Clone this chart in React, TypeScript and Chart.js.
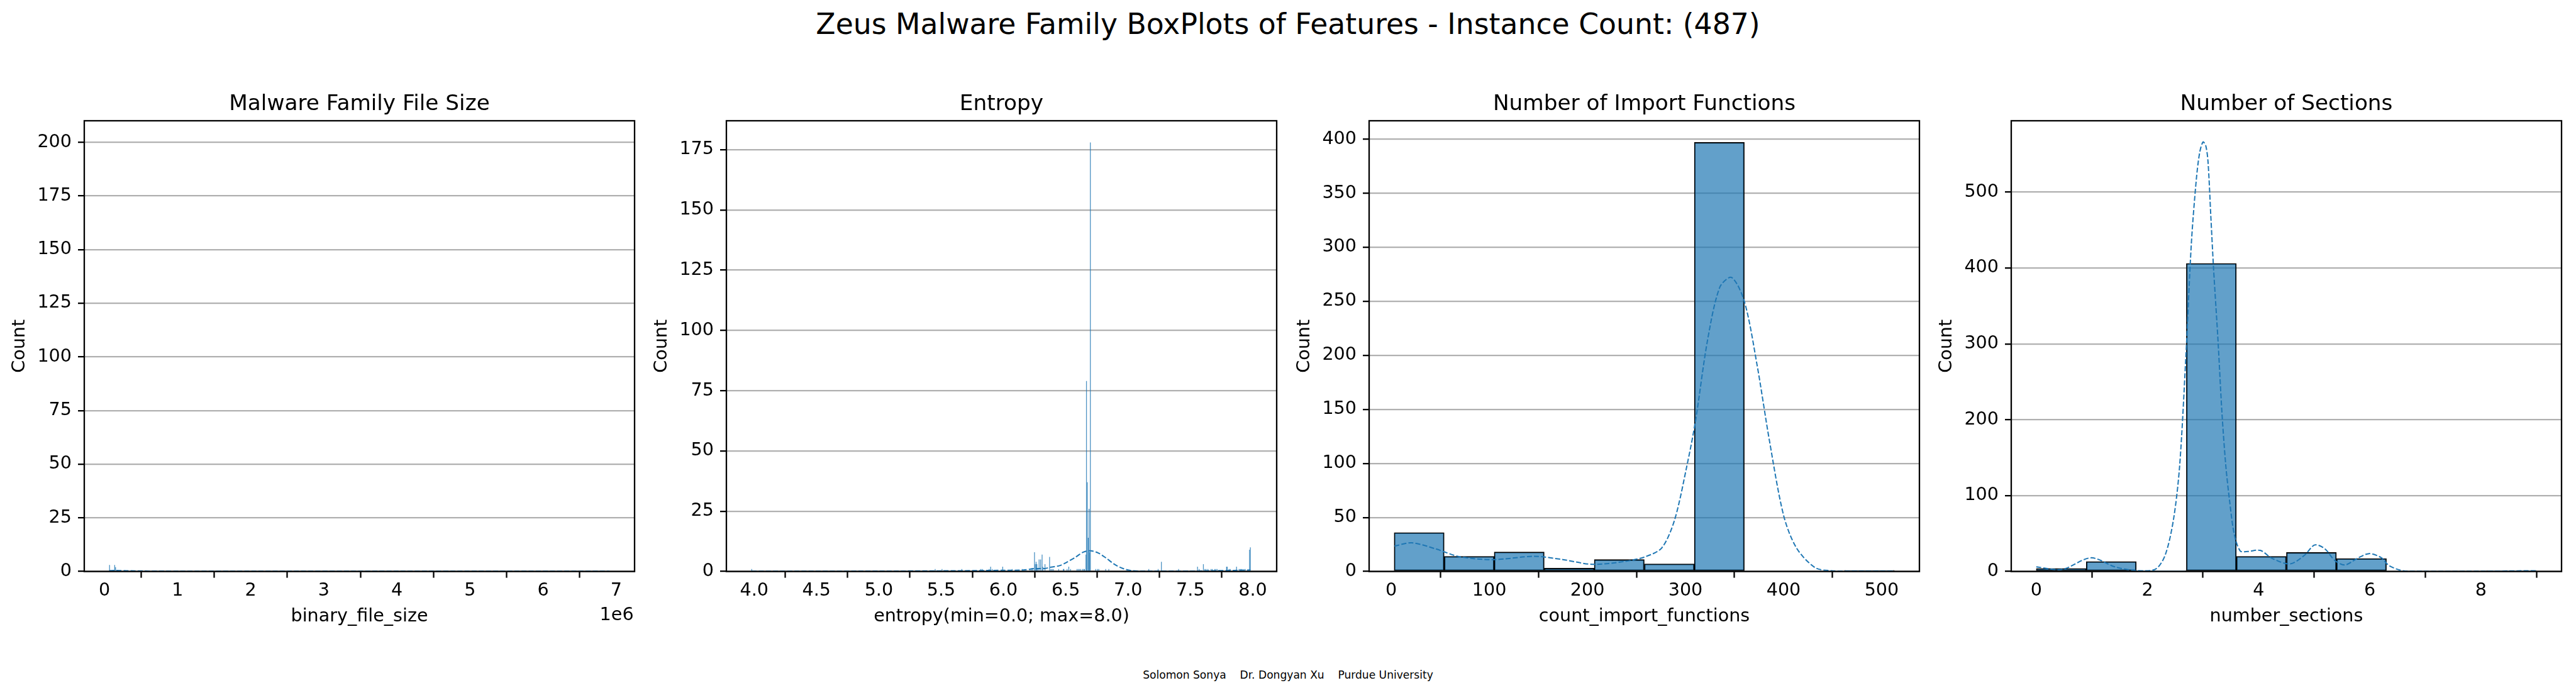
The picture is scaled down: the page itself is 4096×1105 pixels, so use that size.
import React, { useEffect, useRef } from "react";
import { Chart, registerables } from "chart.js";

Chart.register(...registerables);

// ---------------- text ----------------
const FONT_FAMILY = "'DejaVu Sans', 'Liberation Sans', sans-serif";
const SUPTITLE = "Zeus Malware Family BoxPlots of Features - Instance Count: (487)";
const CREDITS = "Solomon Sonya    Dr. Dongyan Xu    Purdue University";
const Y_LABEL = "Count";

// ---------------- panel 1: file size ----------------
const fileSizeTitle = "Malware Family File Size";
const fileSizeXLabel = "binary_file_size";
const fileSizeOffsetText = "1e6";
const fileSizeBinX = [69000, 139000, 151000];
const fileSizeCounts = [3, 3, 2];
const fileSizeKdeX = [65000, 150000, 300000, 600000, 1000000, 2000000, 4000000, 6908000];
const fileSizeKdeY = [0.4, 0.45, 0.35, 0.2, 0.12, 0.1, 0.08, 0.08];
const fileSizeXTicks = [0, 1e6, 2e6, 3e6, 4e6, 5e6, 6e6, 7e6];
const fileSizeXTickLabels = ["0", "1", "2", "3", "4", "5", "6", "7"];
const fileSizeYTicks = [0, 25, 50, 75, 100, 125, 150, 175, 200];
const fileSizeYTickLabels = ["0", "25", "50", "75", "100", "125", "150", "175", "200"];
const fileSizeXLimits = [-277000, 7250000];
const fileSizeYMax = 210;

// ---------------- panel 2: entropy ----------------
const entropyTitle = "Entropy";
const entropyXLabel = "entropy(min=0.0; max=8.0)";
const entropyBinX = [
  3.98, 5.452, 5.507, 5.666, 5.818, 5.83, 5.885, 5.897, 5.91, 5.994, 6.07, 6.15,
  6.213, 6.225, 6.235, 6.249, 6.255, 6.262, 6.268, 6.275, 6.286, 6.298, 6.31, 6.316,
  6.333, 6.37, 6.38, 6.39, 6.4, 6.443, 6.48, 6.485, 6.51, 6.524, 6.538, 6.59, 6.6,
  6.61, 6.62, 6.635, 6.645, 6.65, 6.662, 6.666, 6.673, 6.68, 6.687, 6.691, 6.697,
  6.74, 6.755, 6.765, 6.82, 6.845, 7.166, 7.241, 7.267, 7.405, 7.557, 7.57, 7.604,
  7.615, 7.625, 7.64, 7.665, 7.675, 7.695, 7.705, 7.715, 7.79, 7.795, 7.81, 7.82,
  7.87, 7.89, 7.9, 7.91, 7.94, 7.974, 7.981,
];
const entropyCounts = [
  1, 1, 1, 1, 1, 1, 1, 2, 1, 2, 1, 1,
  1, 1, 1, 8, 3, 4, 3, 1, 5, 5, 7, 2,
  3, 6, 1, 1, 1, 1, 1, 1, 1, 2, 1, 1, 1,
  1, 1, 1, 1, 1, 7, 79, 37, 14, 26, 8, 178,
  1, 1, 1, 1, 1, 1, 1, 4, 1, 2, 1, 3,
  1, 1, 1, 1, 1, 1, 1, 1, 2, 2, 1, 1,
  2, 1, 1, 1, 1, 9, 10,
];
const entropyKdeX = [3.98, 4.5, 5.0, 5.5, 5.8, 6.0, 6.16, 6.25, 6.33, 6.38, 6.45, 6.5, 6.58, 6.64, 6.7, 6.76, 6.82, 6.89, 6.96, 7.03, 7.2, 7.5, 7.7, 7.85, 7.98];
const entropyKdeY = [0.1, 0.1, 0.15, 0.25, 0.35, 0.5, 0.6, 1.2, 1.2, 1.8, 2.4, 3.6, 6.0, 8.0, 8.6, 7.7, 5.7, 3.0, 1.2, 0.3, 0.15, 0.15, 0.3, 0.45, 0.6];
const entropyXTicks = [4.0, 4.5, 5.0, 5.5, 6.0, 6.5, 7.0, 7.5, 8.0];
const entropyXTickLabels = ["4.0", "4.5", "5.0", "5.5", "6.0", "6.5", "7.0", "7.5", "8.0"];
const entropyYTicks = [0, 25, 50, 75, 100, 125, 150, 175];
const entropyYTickLabels = ["0", "25", "50", "75", "100", "125", "150", "175"];
const entropyXLimits = [3.777, 8.192];
const entropyYMax = 187;

// ---------------- panel 3: import functions ----------------
const importsTitle = "Number of Import Functions";
const importsXLabel = "count_import_functions";
const importsBinX = [28.5, 79.5, 130.5, 181.5, 232.5, 283.5, 334.5, 385.5, 436.5, 487.5];
const importsCounts = [36, 14, 18, 3, 11, 7, 397, 0, 0, 1];
const importsKdeX = [3.4, 21, 45, 70, 104, 146, 175, 205, 238, 259, 276, 289, 301.5, 310, 322.5, 335, 347, 360, 373, 385.6, 400, 413, 432, 448.6, 480, 513];
const importsKdeY = [23.5, 26.5, 21, 13.6, 11, 14, 11, 6.6, 9.3, 13.6, 22, 48, 98, 138, 214, 263, 272, 250, 191, 121, 52, 22, 3.6, 0.7, 0.3, 0.3];
const importsXTicks = [0, 100, 200, 300, 400, 500];
const importsXTickLabels = ["0", "100", "200", "300", "400", "500"];
const importsYTicks = [0, 50, 100, 150, 200, 250, 300, 350, 400];
const importsYTickLabels = ["0", "50", "100", "150", "200", "250", "300", "350", "400"];
const importsXLimits = [-22.5, 538.5];
const importsYMax = 417;

// ---------------- panel 4: sections ----------------
const sectionsTitle = "Number of Sections";
const sectionsXLabel = "number_sections";
const sectionsBinX = [0.45, 1.35, 2.25, 3.15, 4.05, 4.95, 5.85, 6.75, 7.65, 8.55];
const sectionsCounts = [4, 13, 1, 406, 20, 25, 17, 0, 0, 1];
const sectionsKdeX = [0, 0.47, 0.98, 1.42, 1.78, 2.14, 2.32, 2.47, 2.58, 2.69, 2.79, 2.88, 2.94, 3.0, 3.05, 3.09, 3.14, 3.19, 3.27, 3.34, 3.41, 3.48, 3.56, 3.67, 3.81, 4.03, 4.25, 4.57, 4.83, 5.01, 5.19, 5.37, 5.55, 5.77, 5.99, 6.21, 6.35, 6.64, 7.73, 9.0];
const sectionsKdeY = [6, 2.8, 18, 6, 1.4, 2.8, 21.7, 69, 139.5, 281, 432, 517, 552, 566, 561, 540, 469, 399, 304, 210, 139.5, 92, 50, 27, 26.4, 27.8, 17, 10, 21.7, 35, 30, 14.6, 8.5, 17, 23.6, 18, 7.5, 0.5, 0.2, 1];
const sectionsXTicks = [0, 2, 4, 6, 8];
const sectionsXTickLabels = ["0", "2", "4", "6", "8"];
const sectionsYTicks = [0, 100, 200, 300, 400, 500];
const sectionsYTickLabels = ["0", "100", "200", "300", "400", "500"];
const sectionsXLimits = [-0.45, 9.45];
const sectionsYMax = 594;

// ---------------- styling / layout ----------------
const TICK_FONT = 28.6;
const SUBTITLE_FONT = 34.3;
const SUPTITLE_FONT = 45.7;
const CREDIT_FONT = 17.1;
const LINE_W = 2.3;
const CANVAS_TOP = 100;
const TITLE_SPACE = 92;
const TITLE_BASELINE_GAP = 17.2;
const Y_AXIS_W = 130;
const PLOT_W = 875;
const RIGHT_PAD = 130;
const CANVAS_W = Y_AXIS_W + PLOT_W + RIGHT_PAD;
const CANVAS_H = 910;
const X_AXIS_H = 101.4;
const PANEL_LEFTS = [4, 1025, 2047, 3068];

type PanelSpec = {
  title: string;
  xLabel: string;
  offsetText?: string;
  binX: number[];
  counts: number[];
  kdeX: number[];
  kdeY: number[];
  xTicks: number[];
  xTickLabels: string[];
  yTicks: number[];
  yTickLabels: string[];
  xLimits: number[];
  yMax: number;
  thin: boolean;
};

const PANELS: PanelSpec[] = [
  { title: fileSizeTitle, xLabel: fileSizeXLabel, offsetText: fileSizeOffsetText, binX: fileSizeBinX, counts: fileSizeCounts, kdeX: fileSizeKdeX, kdeY: fileSizeKdeY, xTicks: fileSizeXTicks, xTickLabels: fileSizeXTickLabels, yTicks: fileSizeYTicks, yTickLabels: fileSizeYTickLabels, xLimits: fileSizeXLimits, yMax: fileSizeYMax, thin: true },
  { title: entropyTitle, xLabel: entropyXLabel, binX: entropyBinX, counts: entropyCounts, kdeX: entropyKdeX, kdeY: entropyKdeY, xTicks: entropyXTicks, xTickLabels: entropyXTickLabels, yTicks: entropyYTicks, yTickLabels: entropyYTickLabels, xLimits: entropyXLimits, yMax: entropyYMax, thin: true },
  { title: importsTitle, xLabel: importsXLabel, binX: importsBinX, counts: importsCounts, kdeX: importsKdeX, kdeY: importsKdeY, xTicks: importsXTicks, xTickLabels: importsXTickLabels, yTicks: importsYTicks, yTickLabels: importsYTickLabels, xLimits: importsXLimits, yMax: importsYMax, thin: false },
  { title: sectionsTitle, xLabel: sectionsXLabel, binX: sectionsBinX, counts: sectionsCounts, kdeX: sectionsKdeX, kdeY: sectionsKdeY, xTicks: sectionsXTicks, xTickLabels: sectionsXTickLabels, yTicks: sectionsYTicks, yTickLabels: sectionsYTickLabels, xLimits: sectionsXLimits, yMax: sectionsYMax, thin: false },
];

function Panel({ spec, left }: { spec: PanelSpec; left: number }) {
  const ref = useRef<HTMLCanvasElement>(null);

  useEffect(() => {
    const canvas = ref.current;
    if (!canvas) return;

    const framePlugin = {
      id: "frameBox",
      afterDraw(chart: any) {
        const { ctx, chartArea: a } = chart;
        ctx.save();
        ctx.strokeStyle = "#000";
        ctx.lineWidth = LINE_W;
        ctx.strokeRect(a.left, a.top, a.right - a.left, a.bottom - a.top);
        ctx.fillStyle = "#000";
        ctx.font = `${SUBTITLE_FONT}px ${FONT_FAMILY}`;
        ctx.textAlign = "center";
        ctx.textBaseline = "alphabetic";
        ctx.fillText(spec.title, (a.left + a.right) / 2, a.top - TITLE_BASELINE_GAP);
        if (spec.offsetText) {
          ctx.font = `${TICK_FONT}px ${FONT_FAMILY}`;
          ctx.textAlign = "right";
          ctx.fillText(spec.offsetText, a.right - 1.4, a.bottom + 77.4);
        }
        ctx.restore();
      },
    };

    const barDataset: any = {
      type: "bar",
      data: spec.binX.map((x, i) => ({ x, y: spec.counts[i] })),
      backgroundColor: spec.thin ? "rgba(31,119,180,0.8)" : "rgba(31,119,180,0.7)",
      borderColor: "#000",
      borderWidth: spec.thin ? 0 : 1.6,
      borderSkipped: false,
      barPercentage: 1,
      categoryPercentage: 1,
      grouped: false,
      order: 1,
    };
    if (spec.thin) {
      barDataset.barThickness = 1.3;
      barDataset.inflateAmount = 0;
    }

    const kdeDataset: any = {
      type: "line",
      data: spec.kdeX.map((x, i) => ({ x, y: spec.kdeY[i] })),
      borderColor: "#1f77b4",
      borderWidth: 2,
      borderDash: [8, 3.3],
      pointRadius: 0,
      tension: 0.3,
      fill: false,
      order: 0,
    };

    const tickFont = { family: FONT_FAMILY, size: TICK_FONT, weight: "normal" as const };

    const chart = new Chart(canvas, {
      type: "bar",
      data: { datasets: [kdeDataset, barDataset] },
      plugins: [framePlugin],
      options: {
        animation: false,
        responsive: false,
        devicePixelRatio: 1,
        layout: { padding: { left: 0, right: RIGHT_PAD, top: TITLE_SPACE, bottom: 0 }, autoPadding: false },
        plugins: {
          legend: { display: false },
          tooltip: { enabled: false },
          title: { display: false },
        },
        scales: {
          x: {
            type: "linear",
            min: spec.xLimits[0],
            max: spec.xLimits[1],
            offset: false,
            grid: {
              display: true,
              drawOnChartArea: false,
              drawTicks: true,
              tickLength: 10,
              tickWidth: LINE_W,
              tickColor: "#000",
              color: "rgba(0,0,0,0)",
            },
            border: { display: false },
            ticks: {
              autoSkip: false,
              maxRotation: 0,
              minRotation: 0,
              padding: 4.3,
              color: "#000",
              font: tickFont,
              callback: (_v: any, i: number) => spec.xTickLabels[i],
            },
            afterBuildTicks: (s: any) => {
              s.ticks = spec.xTicks.map((v) => ({ value: v }));
            },
            afterFit: (s: any) => {
              s.height = X_AXIS_H;
            },
            title: {
              display: true,
              text: spec.xLabel,
              color: "#000",
              font: tickFont,
              padding: { top: 0, bottom: 12.2 },
            },
          },
          y: {
            type: "linear",
            position: "left",
            min: 0,
            max: spec.yMax,
            z: 1,
            grid: {
              display: true,
              drawOnChartArea: true,
              drawTicks: true,
              tickLength: 10,
              tickWidth: LINE_W,
              tickColor: "#000",
              color: "#b0b0b0",
              lineWidth: LINE_W,
            },
            border: { display: false },
            ticks: {
              autoSkip: false,
              padding: 10,
              color: "#000",
              font: tickFont,
              callback: (_v: any, i: number) => spec.yTickLabels[i],
            },
            afterBuildTicks: (s: any) => {
              s.ticks = spec.yTicks.map((v) => ({ value: v }));
            },
            afterFit: (s: any) => {
              s.width = Y_AXIS_W;
            },
            title: {
              display: true,
              text: Y_LABEL,
              color: "#000",
              font: tickFont,
              padding: { top: 10, bottom: 0 },
            },
          },
        },
      } as any,
    });

    return () => {
      chart.destroy();
    };
  }, [spec]);

  return (
    <canvas
      ref={ref}
      width={CANVAS_W}
      height={CANVAS_H}
      style={{ position: "absolute", left, top: CANVAS_TOP, width: CANVAS_W, height: CANVAS_H }}
    />
  );
}

export default function App() {
  return (
    <div
      style={{
        position: "absolute",
        left: 0,
        top: 0,
        width: 4096,
        height: 1105,
        overflow: "hidden",
        background: "#fff",
        fontFamily: FONT_FAMILY,
        color: "#000",
      }}
    >
      <div
        style={{
          position: "absolute",
          left: 0,
          top: 16.2,
          width: 4096,
          textAlign: "center",
          fontSize: SUPTITLE_FONT,
          lineHeight: `${SUPTITLE_FONT}px`,
          whiteSpace: "pre",
        }}
      >
        {SUPTITLE}
      </div>
      {PANELS.map((p, i) => (
        <Panel key={i} spec={p} left={PANEL_LEFTS[i]} />
      ))}
      <div
        style={{
          position: "absolute",
          left: 0,
          top: 1065.3,
          width: 4096,
          textAlign: "center",
          fontSize: CREDIT_FONT,
          lineHeight: `${CREDIT_FONT}px`,
          whiteSpace: "pre",
        }}
      >
        {CREDITS}
      </div>
    </div>
  );
}
